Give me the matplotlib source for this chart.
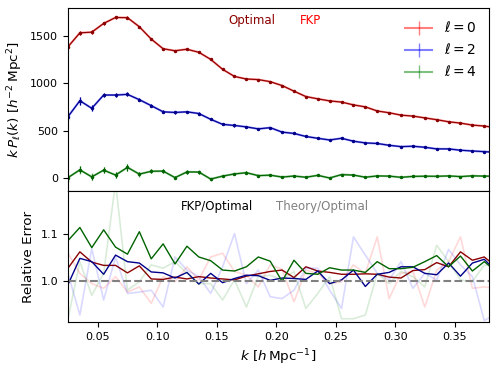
import numpy as np
import matplotlib
matplotlib.use("Agg")
import matplotlib.pyplot as plt

# k bins
k = np.arange(37) * 0.01 + 0.025

# k P_ell(k), optimal weights
p0 = [1386, 1533, 1540, 1632, 1695, 1693, 1597, 1467, 1365, 1344, 1360, 1328, 1253, 1148,
      1073, 1046, 1040, 1018, 977, 918, 861, 837, 815, 803, 773, 752, 709, 690, 665, 655,
      636, 617, 595, 581, 560, 550, 532]
p2 = [649, 817, 737, 877, 877, 884, 828, 765, 700, 693, 700, 682, 621, 568, 556, 541, 520,
      533, 486, 472, 440, 421, 403, 421, 390, 372, 366, 347, 333, 337, 326, 309, 309, 295,
      287, 280, 273]
p4 = [6, 88, 14, 85, 33, 114, 43, 73, 75, 6, 66, 65, -9, 22, 45, 58, 27, 32, 12, 23, 10, 30,
      2, 38, 33, 10, 24, 22, 9, 19, 21, 20, 24, 17, 25, 22, 21]

# errors (optimal)
e0 = [22, 20, 18, 16, 15, 14, 13, 12, 11, 10, 10, 9, 9, 8, 8, 8, 7, 7, 7, 7, 6, 6, 6, 6, 6,
      6, 5, 5, 5, 5, 5, 5, 5, 5, 5, 5, 5]
e2 = [35, 40, 32, 25, 22, 20, 18, 16, 15, 14, 13, 12, 12, 11, 11, 10, 10, 9, 9, 9, 8, 8, 8,
      8, 8, 7, 7, 7, 7, 7, 7, 7, 6, 6, 6, 6, 6]
e4 = [40, 38, 34, 30, 28, 35, 25, 22, 20, 18, 17, 16, 15, 14, 14, 13, 12, 12, 11, 11, 11, 10,
      10, 10, 10, 9, 9, 9, 9, 9, 9, 8, 8, 8, 8, 8, 8]

# FKP / Optimal error ratio
r_fkp0 = [1.027, 1.062, 1.040, 1.033, 1.033, 1.017, 1.032, 1.004, 1.003, 1.008, 1.004, 1.009,
          1.006, 1.004, 1.002, 1.010, 1.015, 1.020, 1.023, 1.007, 1.030, 1.021, 1.018, 1.014,
          1.014, 1.015, 1.014, 1.008, 1.006, 1.022, 1.024, 1.039, 1.030, 1.062, 1.044, 1.051,
          1.030]
r_fkp2 = [0.992, 1.048, 1.041, 1.014, 1.055, 1.041, 1.038, 1.019, 1.017, 1.006, 1.018, 0.993,
          1.016, 0.996, 1.005, 1.012, 1.011, 1.001, 1.006, 1.005, 1.003, 1.021, 0.994, 1.002,
          1.023, 0.988, 1.014, 1.018, 1.030, 1.030, 1.016, 1.013, 1.038, 1.010, 1.038, 1.046,
          1.020]
r_fkp4 = [1.086, 1.114, 1.071, 1.109, 1.072, 1.057, 1.105, 1.047, 1.079, 1.036, 1.074, 1.051,
          1.043, 1.023, 1.021, 1.030, 1.051, 1.042, 0.999, 1.044, 1.016, 1.014, 1.028, 1.023,
          1.023, 1.018, 1.041, 1.026, 1.026, 1.029, 1.041, 1.054, 1.030, 1.053, 1.021, 1.041,
          1.020]

# Theory / Optimal error ratio
r_th0 = [1.059, 1.016, 0.994, 0.984, 1.009, 0.976, 0.987, 0.952, 1.009, 0.998, 1.030, 1.002,
         1.051, 1.059, 1.020, 1.012, 0.987, 1.034, 1.025, 0.955, 1.023, 1.016, 0.994, 0.998,
         1.034, 1.016, 1.094, 0.962, 1.016, 1.020, 0.944, 1.023, 1.041, 1.094, 0.984, 0.987,
         0.984]
r_th2 = [1.016, 0.927, 1.069, 0.959, 1.051, 0.973, 0.976, 0.980, 0.944, 1.051, 1.023, 1.009,
         0.973, 1.030, 1.101, 0.994, 1.023, 0.966, 0.962, 0.980, 1.027, 1.027, 0.980, 0.941,
         1.094, 1.055, 1.016, 1.002, 1.041, 0.984, 1.016, 1.002, 1.067, 1.034, 1.009, 0.915,
         0.930]
r_th4 = [0.919, 1.041, 0.969, 1.016, 1.210, 0.980, 0.998, 1.034, 1.027, 1.041, 1.016, 0.994,
         0.994, 0.959, 1.002, 0.944, 1.009, 1.012, 1.002, 1.020, 0.941, 0.973, 1.009, 0.919,
         0.919, 0.927, 1.016, 0.994, 1.020, 1.009, 0.987, 1.076, 1.041, 1.002, 0.998, 1.034,
         1.030]

labels = [r"$\ell=0$", r"$\ell=2$", r"$\ell=4$"]
light = ["red", "blue", "green"]
dark = ["darkred", "darkblue", "darkgreen"]

fig, (ax1, ax2) = plt.subplots(2, 1, sharex=True, figsize=(4.98, 3.72), dpi=100,
                               gridspec_kw={"height_ratios": [183, 131]})
fig.subplots_adjust(left=0.1365, right=0.982, top=0.9785, bottom=0.1344, hspace=0)

series = zip([p0, p2, p4], [e0, e2, e4], [r_fkp0, r_fkp2, r_fkp4], [r_th0, r_th2, r_th4],
             labels, light, dark)
for p, e, rf, rt, lab, lc, dc in series:
    p = np.array(p)
    e = np.array(e)
    ax1.errorbar(k, p, yerr=e * np.array(rf), color=lc, alpha=0.5, lw=1.5,
                 elinewidth=1, label=lab)
    ax1.errorbar(k, p, yerr=e, color=dc, marker=".", ms=3, lw=0.8, elinewidth=0.8)
    ax2.plot(k, rt, color=lc, alpha=0.15, lw=1.2)
    ax2.plot(k, rf, color=dc, lw=1)

ax2.axhline(1.0, color="gray", ls="--", lw=1.5)

ax1.text(0.437, 0.934, "Optimal", color="darkred", fontsize=8.5,
         transform=ax1.transAxes, ha="center", va="center")
ax1.text(0.577, 0.934, "FKP", color="red", fontsize=8.5,
         transform=ax1.transAxes, ha="center", va="center")
ax2.text(0.354, 0.88, "FKP/Optimal", color="black", fontsize=8.5,
         transform=ax2.transAxes, ha="center", va="center")
ax2.text(0.603, 0.88, "Theory/Optimal", color="gray", fontsize=8.5,
         transform=ax2.transAxes, ha="center", va="center")

ax1.legend(loc="upper right", frameon=False, fontsize=10)
ax1.set_ylim(-135, 1795)
ax1.set_yticks([0, 500, 1000, 1500])
ax1.set_ylabel(r"$k\,P_\ell(k)\ [h^{-2}\,\mathrm{Mpc}^2]$", fontsize=9.7)

ax2.set_xlim(0.025, 0.379)
ax2.set_ylim(0.912, 1.192)
ax2.set_yticks([1.0, 1.1])
ax2.set_ylabel("Relative Error", fontsize=9.7)
ax2.set_xlabel(r"$k\ [h\,\mathrm{Mpc}^{-1}]$", fontsize=9.7)

for ax in (ax1, ax2):
    ax.tick_params(labelsize=8)

fig.savefig("out.png", dpi=100)
